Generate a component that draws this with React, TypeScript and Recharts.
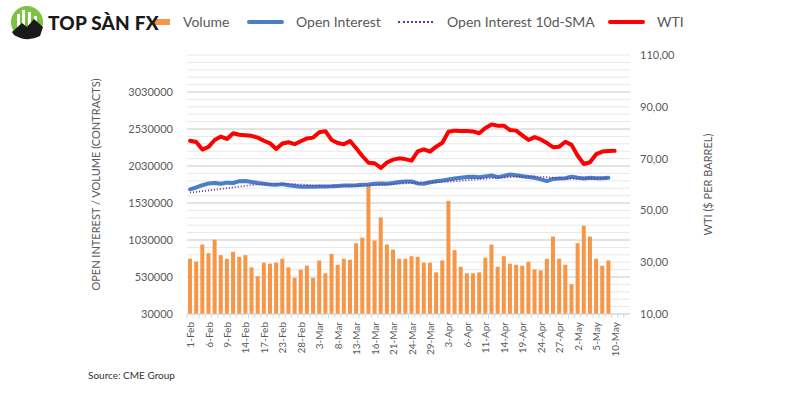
import {
  ComposedChart,
  Bar,
  Line,
  XAxis,
  YAxis,
  CartesianGrid,
} from "recharts";

const FONT = "Lato, 'Open Sans', sans-serif";
const GREY = "#595959";

const dates = [
  "1-Feb", "2-Feb", "3-Feb", "6-Feb", "7-Feb", "8-Feb", "9-Feb", "10-Feb", "13-Feb", "14-Feb",
  "15-Feb", "16-Feb", "17-Feb", "21-Feb", "22-Feb", "23-Feb", "24-Feb", "27-Feb", "28-Feb",
  "1-Mar", "2-Mar", "3-Mar", "6-Mar", "7-Mar", "8-Mar", "9-Mar", "10-Mar", "13-Mar", "14-Mar",
  "15-Mar", "16-Mar", "17-Mar", "20-Mar", "21-Mar", "22-Mar", "23-Mar", "24-Mar", "27-Mar",
  "28-Mar", "29-Mar", "30-Mar", "31-Mar",
  "3-Apr", "4-Apr", "5-Apr", "6-Apr", "7-Apr", "10-Apr", "11-Apr", "12-Apr", "13-Apr", "14-Apr",
  "17-Apr", "18-Apr", "19-Apr", "20-Apr", "21-Apr", "24-Apr", "25-Apr", "26-Apr", "27-Apr", "28-Apr",
  "1-May", "2-May", "3-May", "4-May", "5-May", "8-May", "9-May", "10-May", "11-May", "12-May",
];

const volume = [
  777000, 740000, 968000, 852000, 1035000, 825000, 777000, 870000, 803000, 825000,
  660000, 540000, 723000, 710000, 723000, 777000, 660000, 517000, 629000, 683000,
  517000, 754000, 580000, 843000, 696000, 777000, 763000, 986000, 1062000, 1759000,
  1022000, 1334000, 968000, 901000, 777000, 777000, 811000, 803000, 723000, 723000,
  593000, 754000, 1558000, 892000, 669000, 580000, 580000, 593000, 790000, 968000,
  669000, 811000, 710000, 696000, 683000, 736000, 633000, 620000, 777000, 1076000,
  777000, 696000, 432000, 986000, 1223000, 1076000, 777000, 683000, 754000,
];

const openInterest = [
  1715000, 1740000, 1770000, 1795000, 1800000, 1790000, 1805000, 1800000, 1825000, 1826000,
  1815000, 1800000, 1790000, 1780000, 1775000, 1785000, 1770000, 1760000, 1750000, 1748000,
  1750000, 1752000, 1752000, 1755000, 1760000, 1765000, 1768000, 1770000, 1778000, 1780000,
  1790000, 1795000, 1790000, 1800000, 1815000, 1822000, 1820000, 1795000, 1790000, 1810000,
  1825000, 1835000, 1848000, 1860000, 1870000, 1880000, 1885000, 1878000, 1890000, 1902000,
  1880000, 1895000, 1916000, 1905000, 1892000, 1880000, 1870000, 1850000, 1826000, 1855000,
  1862000, 1865000, 1885000, 1870000, 1860000, 1870000, 1865000, 1865000, 1870000,
];

const oiSma = [
  1670000, 1680000, 1690000, 1700000, 1710000, 1720000, 1730000, 1740000, 1752000, 1762000,
  1772000, 1780000, 1785000, 1788000, 1790000, 1790000, 1788000, 1785000, 1780000, 1774000,
  1768000, 1763000, 1760000, 1758000, 1757000, 1758000, 1760000, 1762000, 1765000, 1768000,
  1772000, 1776000, 1780000, 1785000, 1790000, 1795000, 1800000, 1803000, 1805000, 1808000,
  1810000, 1814000, 1818000, 1823000, 1830000, 1838000, 1846000, 1853000, 1860000, 1866000,
  1870000, 1874000, 1880000, 1885000, 1888000, 1890000, 1888000, 1884000, 1878000, 1872000,
  1866000, 1862000, 1860000, 1860000, 1862000, 1864000, 1865000, 1866000, 1867000,
];

const wti = [
  76.9, 76.4, 73.5, 74.5, 77.2, 78.5, 77.6, 79.8, 79.2, 79.0,
  78.8, 78.1, 76.9, 75.9, 73.7, 75.8, 76.3, 75.6, 76.7, 77.8,
  78.1, 80.2, 80.6, 77.2, 76.0, 75.5, 76.8, 74.0, 71.0, 68.4,
  68.2, 66.4, 68.5, 69.6, 70.1, 69.8, 69.2, 72.8, 73.6, 72.7,
  74.6, 76.1, 80.4, 80.8, 80.7, 80.7, 80.5, 79.8, 81.8, 83.2,
  82.7, 82.7, 81.0, 80.8, 79.0, 77.2, 78.3, 77.4, 76.0, 74.4,
  74.6, 76.5, 75.3, 71.1, 67.9, 68.6, 71.7, 72.7, 72.9, 73.0,
];

const leftTicks = [30000, 530000, 1030000, 1530000, 2030000, 2530000, 3030000];
const rightTicks = [10, 30, 50, 70, 90, 110];
const LEFT_MIN = 30000;
const LEFT_MAX = 3530000;

const data = dates.map((date, i) => ({
  date,
  volume: volume[i] ?? null,
  oi: openInterest[i] ?? null,
  sma: oiSma[i] ?? null,
  wti: wti[i] ?? null,
}));

// light minor gridlines every 100k, darker ones on the labelled ticks
const minorLines: number[] = [];
for (let v = 130000; v <= LEFT_MAX; v += 100000) minorLines.push(v);

const gridAt = (values: number[]) => (props: any) => {
  const top = props?.offset?.top ?? 55;
  const h = props?.offset?.height ?? 259;
  return values.map((v) => top + h * (1 - (v - LEFT_MIN) / (LEFT_MAX - LEFT_MIN)));
};

const XTick = ({ x, y, payload, index }: any) => {
  const half = 443 / 72 / 2;
  return (
    <g>
      <line x1={x - half} x2={x - half} y1={314} y2={318} stroke="#d9d9d9" />
      {index % 3 === 0 && (
        <text
          x={x}
          y={y}
          transform={`rotate(-90, ${x}, ${y})`}
          textAnchor="end"
          dominantBaseline="central"
          fontSize={10}
          fill={GREY}
          fontFamily={FONT}
        >
          {payload.value}
        </text>
      )}
    </g>
  );
};

const Logo = () => (
  <div style={{ position: "absolute", left: 9, top: 4, display: "flex", alignItems: "center" }}>
    <svg width={36} height={36} viewBox="0 0 36 36">
      <circle cx={18} cy={18} r={16} fill="#7DC242" />
      <rect x={8} y={10} width={3} height={14} fill="#fff" />
      <rect x={13} y={6} width={3} height={16} fill="#fff" />
      <rect x={19} y={8} width={3} height={13} fill="#fff" />
      <rect x={25} y={12} width={3} height={10} fill="#fff" />
      <path d="M3 28 L13 19 L18 23 L25 15 L34 23 L31 32 Q18 39 5 31 Z" fill="#1a1a1a" />
    </svg>
    <span
      style={{
        fontFamily: FONT,
        fontWeight: 900,
        fontSize: 19,
        color: "#1a1a1a",
        marginLeft: 3,
        letterSpacing: 0.2,
      }}
    >
      TOP SÀN FX
    </span>
  </div>
);

const LegendRow = () => {
  const text = { fontFamily: FONT, fontSize: 14, color: GREY, position: "absolute" as const, top: 13 };
  return (
    <>
      <div style={{ position: "absolute", left: 154, top: 19, width: 16, height: 6, background: "#F79646" }} />
      <span style={{ ...text, left: 183 }}>Volume</span>
      <div style={{ position: "absolute", left: 247, top: 20, width: 37, height: 4, borderRadius: 2, background: "#4A7EC7" }} />
      <span style={{ ...text, left: 296 }}>Open Interest</span>
      <div style={{ position: "absolute", left: 398, top: 21, width: 35, height: 0, borderTop: "2px dotted #6B2FA0" }} />
      <span style={{ ...text, left: 447 }}>Open Interest 10d-SMA</span>
      <div style={{ position: "absolute", left: 608, top: 20, width: 37, height: 4, borderRadius: 2, background: "#FF0000" }} />
      <span style={{ ...text, left: 657 }}>WTI</span>
    </>
  );
};

const App = () => (
  <div style={{ position: "absolute", left: 0, top: 0, width: 800, height: 400, background: "#fff" }}>
    <ComposedChart
      width={800}
      height={400}
      data={data}
      margin={{ top: 55, right: 60, bottom: 30, left: 80 }}
      barCategoryGap={1}
    >
      <CartesianGrid
        yAxisId="left"
        vertical={false}
        horizontalCoordinatesGenerator={gridAt(minorLines)}
        stroke="#e8e8e8"
      />
      <CartesianGrid
        yAxisId="left"
        vertical={false}
        horizontalCoordinatesGenerator={gridAt(leftTicks)}
        stroke="#d4d4d4"
      />
      <XAxis
        dataKey="date"
        interval={0}
        tick={<XTick />}
        tickLine={false}
        axisLine={{ stroke: "#d9d9d9" }}
        height={56}
      />
      <YAxis
        yAxisId="left"
        width={107}
        domain={[LEFT_MIN, LEFT_MAX]}
        ticks={leftTicks}
        interval={0}
        tickLine={false}
        axisLine={false}
        tickMargin={8}
        tick={{ fontSize: 11, fill: GREY, fontFamily: FONT }}
        label={{
          value: "OPEN INTEREST / VOLUME (CONTRACTS)",
          angle: -90,
          position: "center",
          dx: -37,
          style: { fontSize: 11, fill: GREY, fontFamily: FONT },
        }}
      />
      <YAxis
        yAxisId="right"
        orientation="right"
        width={110}
        domain={[10, 110]}
        ticks={rightTicks}
        interval={0}
        tickLine={false}
        axisLine={false}
        tickMargin={4}
        tickFormatter={(v: number) => v.toFixed(2).replace(".", ",")}
        tick={{ fontSize: 11, fill: GREY, fontFamily: FONT, textAnchor: "start" }}
        label={{
          value: "WTI ($ PER BARREL)",
          angle: -90,
          position: "center",
          dx: 23,
          style: { fontSize: 11, fill: GREY, fontFamily: FONT },
        }}
      />
      <Bar yAxisId="left" dataKey="volume" fill="#F79646" isAnimationActive={false} />
      <Line
        yAxisId="left"
        dataKey="oi"
        stroke="#4A7EC7"
        strokeWidth={4}
        dot={false}
        strokeLinejoin="round"
        strokeLinecap="round"
        isAnimationActive={false}
      />
      <Line
        yAxisId="left"
        dataKey="sma"
        stroke="#6B2FA0"
        strokeWidth={1.8}
        strokeDasharray="1 2"
        dot={false}
        isAnimationActive={false}
      />
      <Line
        yAxisId="right"
        dataKey="wti"
        stroke="#FF0000"
        strokeWidth={4}
        dot={false}
        strokeLinejoin="round"
        strokeLinecap="round"
        isAnimationActive={false}
      />
    </ComposedChart>
    <div style={{ position: "absolute", left: 0, top: 0, width: 800, height: 50, pointerEvents: "none" }}>
      <LegendRow />
      <Logo />
    </div>
    <div
      style={{
        position: "absolute",
        left: 88,
        top: 369,
        fontFamily: FONT,
        fontSize: 10,
        color: "#333",
      }}
    >
      Source: CME Group
    </div>
  </div>
);

export default App;
